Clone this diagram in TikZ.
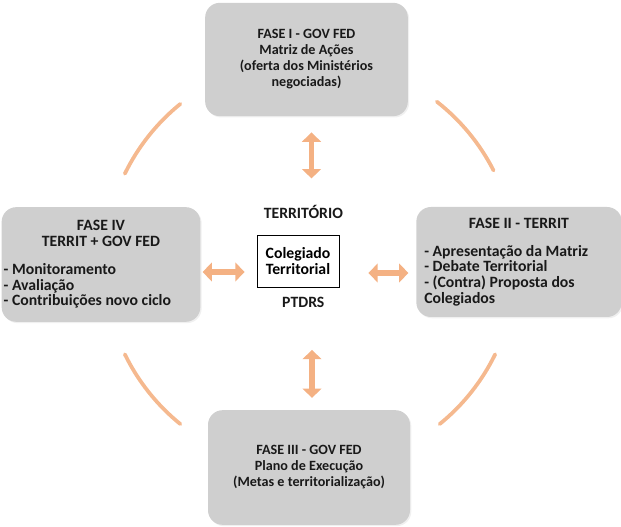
\documentclass[tikz,border=0pt]{standalone}
\usepackage{fontspec}
\setmainfont{Carlito}
\usetikzlibrary{arrows.meta, positioning, shadows}
\definecolor{phasefill}{RGB}{207, 207, 207}
\definecolor{flowcolor}{RGB}{244, 177, 131}
\definecolor{textdark}{RGB}{25, 25, 25}

\begin{document}
\begin{tikzpicture}[
    x=0.75pt, y=0.75pt,
    font=\bfseries\fontsize{10.6}{12}\selectfont,
    % Styles
    phasebox/.style={
        rectangle,
        rounded corners=11pt,
        draw=none,
        fill=phasefill,
        text=textdark,
        drop shadow={opacity=0.12, shadow xshift=1pt, shadow yshift=-1pt},
        inner sep=3pt
    },
    sidetext/.style={
        font=\bfseries\fontsize{11.8}{11.8}\selectfont
    },
    centerbox/.style={
        rectangle,
        draw=black,
        line width=0.6pt,
        fill=white,
        align=center,
        sidetext,
        minimum width=61.5pt,
        minimum height=39pt
    },
    labeltext/.style={
        text=textdark,
        sidetext,
        inner sep=2pt
    },
    dblarrow/.style={
        line width=4pt,
        color=flowcolor,
        {Triangle[width=14pt, length=7pt]}-{Triangle[width=14pt, length=7pt]}
    },
    ringarc/.style={
        line width=2.8pt,
        color=flowcolor!90,
        line cap=round
    }
]
\useasboundingbox (0,0) rectangle (621,527);

% --- Centre: Colegiado ---
\node (colegiado) [centerbox] at (298,266) {Colegiado\\Territorial};
\node (territorio) [labeltext, above=10pt of colegiado, xshift=4pt] {TERRITÓRIO};
\node (ptdrs) [labeltext, below=5pt of colegiado, xshift=4pt] {PTDRS};

% --- Fase I (top) ---
\node (phase1) [phasebox, align=center, minimum width=152pt, minimum height=85pt] at (306.5,467.5) {
    FASE I - GOV FED\\
    Matriz de Ações\\
    (oferta dos Ministérios\\
    negociadas)
};

% --- Fase II (right) ---
\node (phase2) [phasebox, sidetext, align=flush left, minimum width=151.5pt, minimum height=82.5pt, text width=142pt, inner xsep=6pt] at (519,265) {
    {\centering FASE II - TERRIT\par}
    \vspace{9pt}
    - Apresentação da Matriz\\
    - Debate Territorial\\
    - (Contra) Proposta dos\\
    Colegiados
};

% --- Fase III (bottom) ---
\node (phase3) [phasebox, align=center, minimum width=151.5pt, minimum height=86pt] at (309,59.5) {
    FASE III - GOV FED\\
    Plano de Execução\\
    (Metas e territorialização)
};

% --- Fase IV (left) ---
\node (phase4) [phasebox, sidetext, align=flush left, minimum width=148.5pt, minimum height=86pt, text width=146pt, inner xsep=1.5pt] at (101,262.5) {
    {\centering FASE IV\\TERRIT + GOV FED\par}
    \vspace{9pt}
    - Monitoramento\\
    - Avaliação\\
    - Contribuições novo ciclo
};

% --- Connections ---
% Vertical (Fase I / III <-> Colegiado)
\draw [dblarrow] (phase1.south) ++(5,-16) -- ++(0,-46);
\draw [dblarrow] (phase3.north) ++(3,12) -- ++(0,48);

% Horizontal (Fase IV / II <-> Colegiado)
\draw [dblarrow] (colegiado.west) ++(-12,-11) -- ++(-42,0);
\draw [dblarrow] (colegiado.east) ++(29,-12) -- ++(40,0);

% --- Cycle ring ---
\coordinate (ctr) at (310,263);
\foreach \a in {27,129,206,309} {
    \draw [ringarc] (ctr) ++(\a:206) arc[start angle=\a, delta angle=25, radius=206];
}

\end{tikzpicture}
\end{document}
